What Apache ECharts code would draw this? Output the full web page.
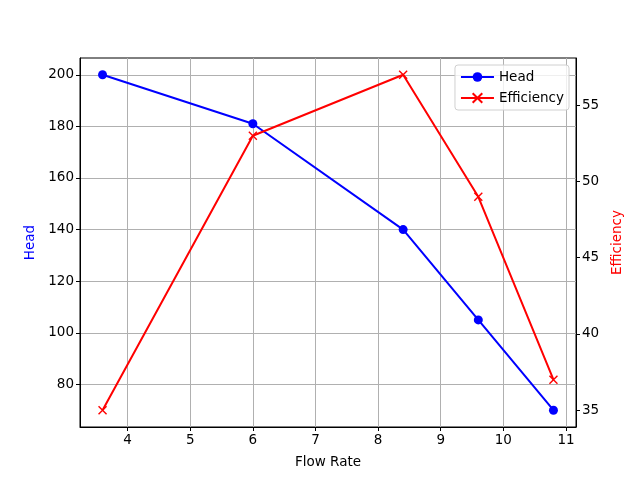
<!DOCTYPE html>
<html><head><meta charset="utf-8">
<script src="https://cdn.jsdelivr.net/npm/echarts@6/dist/echarts.min.js"></script>
<style>html,body{margin:0;padding:0;background:#fff}#c{width:640px;height:480px}</style>
</head><body><div id="c"></div>
<script>
var flowRate = [3.6, 6.0, 8.4, 9.6, 10.8];
var head = [200, 181, 140, 105, 70];
var efficiency = [35, 53, 57, 49, 37];
var xTicks = [4, 5, 6, 7, 8, 9, 10, 11];
var headTicks = [80, 100, 120, 140, 160, 180, 200];
var effTicks = [35, 40, 45, 50, 55];

var font = 'DejaVu Sans';
var fs = 13.5;
var chart = echarts.init(document.getElementById('c'), null, {renderer: 'canvas'});
function pairs(xs, ys) { return xs.map(function (x, i) { return [x, ys[i]]; }); }
var axisCommon = {
  axisLine: {show: true, onZero: false, lineStyle: {color: '#000', width: 1}},
  axisTick: {show: true, inside: false, length: 4, lineStyle: {color: '#000', width: 1}},
  axisLabel: {color: '#000', fontFamily: font, fontSize: fs, margin: 6}
};
chart.setOption({
  animation: false,
  backgroundColor: '#fff',
  grid: {left: 80, right: 64, top: 58, bottom: 53, show: true, borderColor: '#000', borderWidth: 1, containLabel: false},
  legend: {
    right: 71, top: 65,
    orient: 'vertical',
    itemWidth: 33, itemHeight: 12, itemGap: 7,
    padding: [5, 5, 5, 5],
    backgroundColor: 'rgba(255,255,255,0.8)',
    borderColor: '#d0d0d0', borderWidth: 1, borderRadius: 3,
    textStyle: {fontFamily: font, fontSize: fs, color: '#000'},
    data: ['Head', 'Efficiency']
  },
  xAxis: Object.assign({}, axisCommon, {
    type: 'value', min: 3.24, max: 11.16,
    name: 'Flow Rate', nameLocation: 'middle', nameGap: 28,
    nameTextStyle: {fontFamily: font, fontSize: fs, color: '#000'},
    axisTick: Object.assign({}, axisCommon.axisTick, {customValues: xTicks}),
    axisLabel: Object.assign({}, axisCommon.axisLabel, {customValues: xTicks}),
    splitLine: {show: true, lineStyle: {color: '#b0b0b0', width: 1}}
  }),
  yAxis: [
    Object.assign({}, axisCommon, {
      type: 'value', min: 63.5, max: 206.5, position: 'left',
      name: 'Head', nameLocation: 'middle', nameGap: 42, nameRotate: 90,
      nameTextStyle: {fontFamily: font, fontSize: fs, color: 'blue'},
      axisTick: Object.assign({}, axisCommon.axisTick, {customValues: headTicks}),
      axisLabel: Object.assign({}, axisCommon.axisLabel, {customValues: headTicks}),
      splitLine: {show: true, lineStyle: {color: '#b0b0b0', width: 1}}
    }),
    Object.assign({}, axisCommon, {
      type: 'value', min: 33.9, max: 58.1, position: 'right',
      name: 'Efficiency', nameLocation: 'middle', nameGap: 33, nameRotate: 90,
      nameTextStyle: {fontFamily: font, fontSize: fs, color: 'red'},
      axisTick: Object.assign({}, axisCommon.axisTick, {customValues: effTicks}),
      axisLabel: Object.assign({}, axisCommon.axisLabel, {customValues: effTicks}),
      splitLine: {show: false}
    })
  ],
  series: [
    {
      name: 'Head', type: 'line', yAxisIndex: 0,
      data: pairs(flowRate, head),
      symbol: 'circle', symbolSize: 9,
      lineStyle: {color: 'blue', width: 2},
      itemStyle: {color: 'blue'}
    },
    {
      name: 'Efficiency', type: 'line', yAxisIndex: 1,
      data: pairs(flowRate, efficiency),
      symbol: 'path://M0,0L10,10M10,0L0,10', symbolSize: 8,
      lineStyle: {color: 'red', width: 2},
      itemStyle: {color: 'red', borderColor: 'red', borderWidth: 1.4}
    }
  ]
});
</script></body></html>
